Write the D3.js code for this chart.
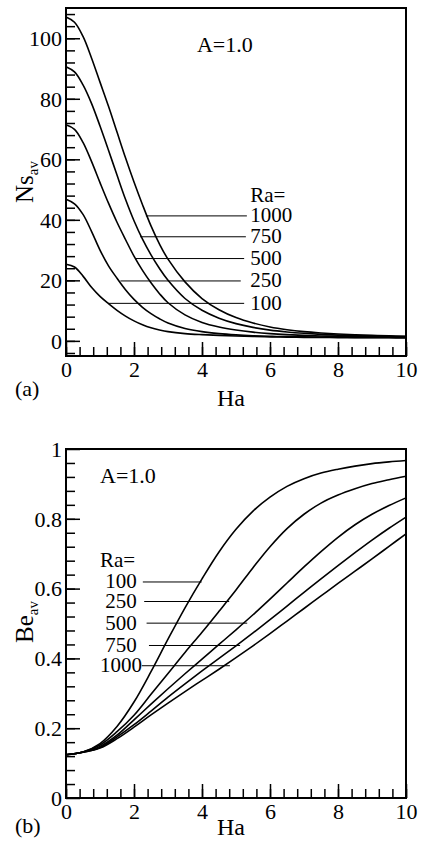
<!DOCTYPE html>
<html lang="en">
<head>
  <meta charset="utf-8"/>
  <title>Ns_av and Be_av vs Ha</title>
  <script src="https://d3js.org/d3.v7.min.js"></script>
  <style>
  body { margin: 0; background: white; }
  svg, svg text { font-family: "Liberation Serif", "Times New Roman", Times, "DejaVu Serif", serif; }
  .frame { fill: none; stroke: black; stroke-width: 2px; }
  .curve { fill: none; stroke: black; stroke-width: 1.6px; }
  .leader { stroke: black; stroke-width: 1px; }
  .tick line { stroke: black; stroke-width: 1.5px; }
  .tick text { font-size: 22px; fill: black; }
  </style>
</head>
<body>
<svg id="chart" width="421" height="841"></svg>
<script>
// ---- data ----
const raLabels = ["100", "250", "500", "750", "1000"];

// (a) Ns_av against Ha
const haNs = [0, 0.25, 0.5, 0.75, 1, 1.25, 1.5, 1.75, 2, 2.25, 2.5, 2.75, 3,
              3.5, 4, 4.5, 5, 5.5, 6, 6.5, 7, 7.5, 8, 8.5, 9, 9.5, 10];
const ns100  = [25.3, 24.4, 21.4, 17.7, 14.7, 12.3, 10.1, 8.2, 6.6, 5.3, 4.3, 3.6, 3.05,
                2.4, 2.05, 1.8, 1.6, 1.45, 1.33, 1.24, 1.17, 1.12, 1.08, 1.05, 1.03, 1.01, 1.0];
const ns250  = [46.8, 45.3, 41.8, 36.2, 30, 24.8, 20.7, 16.9, 13.7, 11.1, 9, 7.3, 5.9,
                4.1, 3.05, 2.4, 1.98, 1.7, 1.52, 1.4, 1.32, 1.26, 1.21, 1.17, 1.14, 1.12, 1.1];
const ns500  = [71.4, 69.9, 65.6, 59.3, 52.3, 45.5, 39.2, 33.5, 28, 23.3, 19.2, 15.6, 12.6,
                8.6, 6.1, 4.6, 3.6, 2.9, 2.4, 2.05, 1.8, 1.62, 1.5, 1.4, 1.33, 1.28, 1.25];
const ns750  = [90.6, 88.9, 84.6, 78.5, 71, 63, 54.8, 46.8, 39.7, 33.6, 28.4, 23.9, 20,
                14, 10.1, 7.5, 5.7, 4.45, 3.55, 2.95, 2.5, 2.15, 1.9, 1.72, 1.58, 1.47, 1.4];
const ns1000 = [107, 105.3, 100.6, 93.5, 85.5, 77.5, 69, 60.5, 52.5, 45, 38, 32, 27,
                19.5, 14, 10.3, 7.7, 5.9, 4.6, 3.7, 3.05, 2.6, 2.25, 2.0, 1.8, 1.65, 1.5];
// leader lines: Ns level, Ha where it leaves the curve, Ha where the label starts
const nsLeaderY  = [12.4, 19.8, 27.2, 34.4, 41.3];
const nsLeaderX0 = [1.24, 1.6, 2.03, 2.18, 2.35];
const nsLeaderX1 = [5.24, 5.14, 5.24, 5.29, 5.32];

// (b) Be_av against Ha
const haBe = [0, 0.5, 1, 1.5, 2, 2.5, 3, 3.5, 4, 4.5, 5,
              5.5, 6, 6.5, 7, 7.5, 8, 8.5, 9, 9.5, 10];
const be100  = [0.124, 0.132, 0.156, 0.205, 0.275, 0.362, 0.455, 0.545, 0.628, 0.705, 0.77,
                0.822, 0.862, 0.893, 0.915, 0.931, 0.942, 0.951, 0.958, 0.963, 0.967];
const be250  = [0.124, 0.132, 0.152, 0.19, 0.237, 0.297, 0.357, 0.417, 0.475, 0.535, 0.596,
                0.66, 0.72, 0.772, 0.813, 0.845, 0.868, 0.886, 0.901, 0.912, 0.922];
const be500  = [0.124, 0.132, 0.148, 0.18, 0.224, 0.269, 0.313, 0.356, 0.398, 0.44, 0.482,
                0.525, 0.57, 0.616, 0.662, 0.706, 0.747, 0.783, 0.813, 0.838, 0.86];
const be750  = [0.124, 0.131, 0.145, 0.175, 0.21, 0.249, 0.289, 0.327, 0.364, 0.4, 0.436,
                0.473, 0.511, 0.55, 0.589, 0.628, 0.666, 0.703, 0.739, 0.773, 0.805];
const be1000 = [0.124, 0.131, 0.143, 0.17, 0.203, 0.238, 0.272, 0.305, 0.337, 0.369, 0.402,
                0.436, 0.471, 0.507, 0.543, 0.579, 0.615, 0.65, 0.685, 0.721, 0.757];
const beLeaderY  = [0.619, 0.563, 0.501, 0.437, 0.379];
const beLeaderX0 = [2.26, 2.3, 2.37, 2.44, 2.23];
const beLeaderX1 = [3.99, 4.8, 5.33, 5.12, 4.82];

const svg = d3.select("#chart");
const x_left = 66, x_right = 406;

function drawPanel(opt) {
  const g = svg.append("g");
  const x = d3.scaleLinear().domain([0, 10]).range([x_left, x_right]);
  const y = d3.scaleLinear().domain(opt.yDomain).range([opt.bottom, opt.top]);

  // minor ticks (inward)
  g.append("g")
    .attr("transform", "translate(0," + opt.bottom + ")")
    .call(d3.axisBottom(x).tickValues(d3.range(0, 10.001, 0.4)).tickSize(-9).tickFormat(""))
    .call(a => a.select(".domain").remove());
  g.append("g")
    .attr("transform", "translate(" + x_left + ",0)")
    .call(d3.axisLeft(y).tickValues(opt.yMinor).tickSize(-9).tickFormat(""))
    .call(a => a.select(".domain").remove());
  // major ticks + labels
  g.append("g")
    .attr("transform", "translate(0," + opt.bottom + ")")
    .call(d3.axisBottom(x).tickValues([0, 2, 4, 6, 8, 10]).tickSize(-14).tickPadding(5))
    .call(a => a.select(".domain").remove())
    .call(a => a.selectAll("text").attr("y", 21).attr("dy", null));
  g.append("g")
    .attr("transform", "translate(" + x_left + ",0)")
    .call(d3.axisLeft(y).tickValues(opt.yMajor).tickSize(-14).tickPadding(4).tickFormat(d3.format("~g")))
    .call(a => a.select(".domain").remove())
    .call(a => a.selectAll("text").attr("dy", "0.33em"));
  svg.selectAll("g").attr("font-family", null);

  const line = d3.line()
    .x(d => x(d[0]))
    .y(d => y(d[1]))
    .curve(d3.curveCatmullRom.alpha(0.5));
  opt.series.forEach(s => {
    g.append("path")
      .attr("class", "curve")
      .attr("d", line(opt.xs.map((v, i) => [v, s[i]])));
  });

  // leader lines and labels
  raLabels.forEach((r, i) => {
    g.append("line")
      .attr("class", "leader")
      .attr("x1", x(opt.lx0[i])).attr("x2", x(opt.lx1[i]))
      .attr("y1", y(opt.ly[i])).attr("y2", y(opt.ly[i]));
    g.append("text")
      .attr("x", opt.labelX(x, i))
      .attr("y", y(opt.ly[i]) + 6.5)
      .attr("text-anchor", opt.labelAnchor)
      .style("font-size", "21px")
      .text(r);
  });
  g.append("text")
    .attr("x", x(opt.raAt[0])).attr("y", y(opt.raAt[1]) + 6.5)
    .style("font-size", "21px")
    .text("Ra=");

  g.append("text")
    .attr("x", x(opt.aAt[0])).attr("y", opt.aY)
    .style("font-size", "22px")
    .text("A=1.0");

  g.append("rect")
    .attr("class", "frame")
    .attr("x", x_left).attr("y", opt.top)
    .attr("width", x_right - x_left).attr("height", opt.bottom - opt.top);

  // axis titles
  g.append("text")
    .attr("x", 231).attr("y", opt.haY)
    .attr("text-anchor", "middle")
    .style("font-size", "24px")
    .text("Ha");
  g.append("text")
    .attr("x", 15).attr("y", opt.tagY)
    .style("font-size", "22px")
    .text(opt.tag);
  const yl = g.append("text")
    .attr("transform", "translate(33," + opt.yTitleY + ") rotate(-90)")
    .attr("text-anchor", "middle")
    .style("font-size", "25px");
  yl.append("tspan").text(opt.yTitle);
  yl.append("tspan").attr("dy", 5).style("font-size", "15px").text("av");
}

// (a)
drawPanel({
  top: 8, bottom: 356,
  yDomain: [-5, 110],
  yMajor: [0, 20, 40, 60, 80, 100],
  yMinor: d3.range(-4, 110, 4),
  xs: haNs,
  series: [ns100, ns250, ns500, ns750, ns1000],
  ly: nsLeaderY, lx0: nsLeaderX0, lx1: nsLeaderX1,
  labelX: (x, i) => x(5.42),
  labelAnchor: "start",
  raAt: [5.42, 48.2],
  aAt: [3.85], aY: 52,
  haY: 406, tagY: 396,
  tag: "(a)", yTitle: "Ns", yTitleY: 182
});

// (b)
drawPanel({
  top: 449, bottom: 798,
  yDomain: [0, 1],
  yMajor: [0, 0.2, 0.4, 0.6, 0.8, 1],
  yMinor: d3.range(0.04, 1, 0.04),
  xs: haBe,
  series: [be100, be250, be500, be750, be1000],
  ly: beLeaderY, lx0: beLeaderX0, lx1: beLeaderX1,
  labelX: (x, i) => x(1.62),
  labelAnchor: "middle",
  raAt: [1.0, 0.681],
  aAt: [1.0], aY: 483,
  haY: 835, tagY: 833,
  tag: "(b)", yTitle: "Be", yTitleY: 622
});
</script>
</body>
</html>
